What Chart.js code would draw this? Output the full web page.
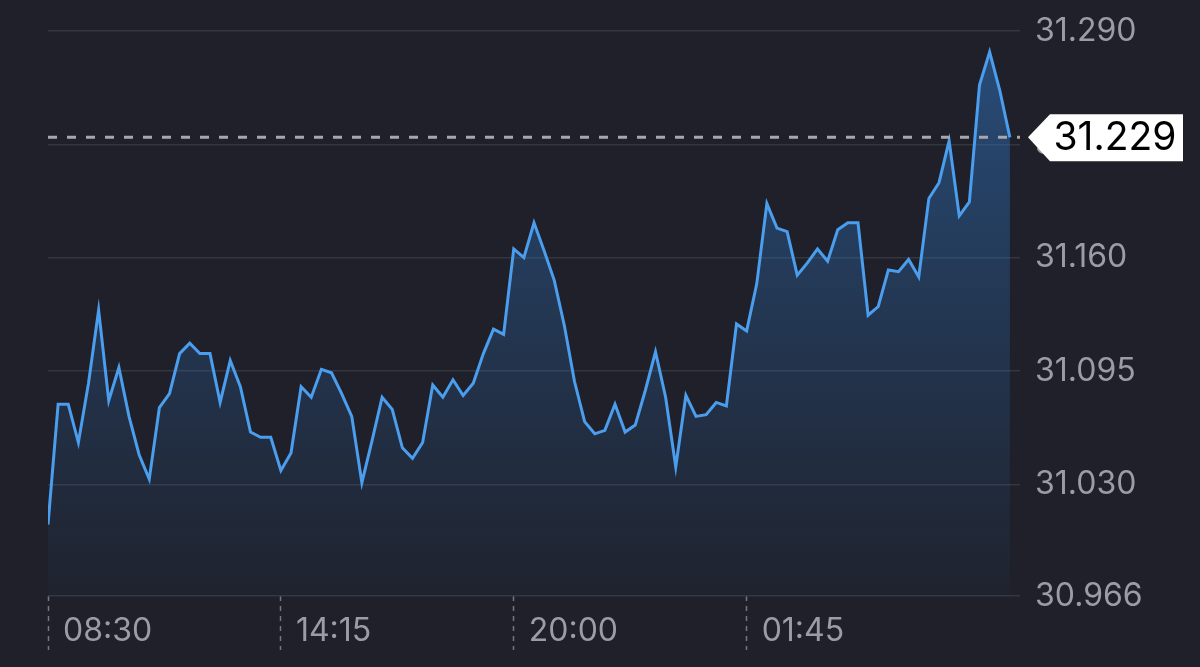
<!DOCTYPE html>
<html>
<head>
<meta charset="utf-8">
<script src="https://cdn.jsdelivr.net/npm/chart.js@4"></script>
<style>
  html, body { margin: 0; padding: 0; background: #1f2029; }
  canvas { display: block; }
</style>
</head>
<body>
<canvas id="priceChart" width="1200" height="667"></canvas>
<script>
// price every 15 minutes, 08:30 -> 08:15 next day
const prices = [
    31.007, 31.076, 31.076, 31.054, 31.088, 31.130, 31.078, 31.097, 31.069, 31.047,
    31.033, 31.074, 31.082, 31.105, 31.111, 31.105, 31.105, 31.077, 31.101, 31.086,
    31.060, 31.057, 31.057, 31.038, 31.048, 31.086, 31.080, 31.096, 31.094, 31.082,
    31.069, 31.031, 31.055, 31.080, 31.073, 31.051, 31.045, 31.054, 31.087, 31.080,
    31.090, 31.081, 31.088, 31.105, 31.119, 31.116, 31.165, 31.160, 31.180, 31.164,
    31.147, 31.121, 31.089, 31.066, 31.059, 31.061, 31.076, 31.060, 31.064, 31.084,
    31.106, 31.080, 31.040, 31.081, 31.069, 31.070, 31.077, 31.075, 31.122, 31.118,
    31.145, 31.191, 31.177, 31.175, 31.150, 31.157, 31.165, 31.158, 31.176, 31.180,
    31.180, 31.127, 31.132, 31.153, 31.152, 31.159, 31.149, 31.194, 31.203, 31.227,
    31.184, 31.192, 31.259, 31.278, 31.256, 31.229
];

const xTickLabels = ['08:30', '14:15', '20:00', '01:45'];
const xTickSteps = [0, 23, 46, 69];
const yTicks = [30.966, 31.030, 31.095, 31.160, 31.225, 31.290];
const lastPrice = 31.229;

const axisFont = { family: 'Inter', size: 32 };
const textGrey = '#9c9da3';

// dashed last-price line + white price tag
const lastPriceTag = {
    id: 'lastPriceTag',
    afterDraw(chart) {
        const { ctx, chartArea, scales } = chart;
        const y = scales.y.getPixelForValue(lastPrice);
        const r = chartArea.right;

        ctx.save();
        ctx.strokeStyle = '#a7a8ac';
        ctx.lineWidth = 3;
        ctx.setLineDash([9, 10]);
        ctx.beginPath();
        ctx.moveTo(chartArea.left, y);
        ctx.lineTo(r, y);
        ctx.stroke();

        ctx.setLineDash([]);
        ctx.fillStyle = '#ffffff';
        ctx.beginPath();
        ctx.moveTo(r + 8, y);
        ctx.lineTo(r + 30, y - 23);
        ctx.lineTo(r + 163, y - 23);
        ctx.lineTo(r + 163, y + 24);
        ctx.lineTo(r + 30, y + 24);
        ctx.closePath();
        ctx.fill();

        ctx.fillStyle = '#000000';
        ctx.font = '39px Inter';
        ctx.textAlign = 'center';
        ctx.textBaseline = 'middle';
        ctx.fillText(lastPrice.toFixed(3), r + 95, y + 1);
        ctx.restore();
    }
};

const ctx = document.getElementById('priceChart').getContext('2d');

const myChart = new Chart(ctx, {
    type: 'line',
    data: {
        datasets: [{
            data: prices.map((p, i) => ({ x: i, y: p })),
            borderColor: '#4b9ded',
            borderWidth: 3,
            borderJoinStyle: 'miter',
            pointRadius: 0,
            tension: 0,
            fill: 'start',
            backgroundColor: (c) => {
                const area = c.chart.chartArea;
                if (!area) return 'rgba(60,130,210,0.3)';
                const g = c.chart.ctx.createLinearGradient(0, area.top, 0, area.bottom);
                g.addColorStop(0, 'rgba(48,115,190,0.55)');
                g.addColorStop(0.5, 'rgba(48,115,190,0.28)');
                g.addColorStop(1, 'rgba(48,115,190,0.04)');
                return g;
            }
        }]
    },
    options: {
        responsive: false,
        animation: false,
        devicePixelRatio: 1,
        layout: { padding: { left: 48, top: 31, right: 0, bottom: 0 } },
        plugins: {
            legend: { display: false },
            tooltip: { enabled: false }
        },
        scales: {
            x: {
                type: 'linear',
                min: 0,
                max: 96,
                afterBuildTicks: (scale) => {
                    scale.ticks = xTickSteps.map(v => ({ value: v }));
                },
                afterFit: (scale) => {
                    scale.height = 71;
                    scale.paddingLeft = 0;
                    scale.paddingRight = 0;
                },
                border: { display: false },
                grid: {
                    drawOnChartArea: false,
                    drawTicks: true,
                    tickLength: 54,
                    tickColor: '#75777e',
                    tickWidth: 1.5,
                    tickBorderDash: [5, 5]
                },
                ticks: {
                    autoSkip: false,
                    maxRotation: 0,
                    align: 'start',
                    labelOffset: 15,
                    padding: -38,
                    color: textGrey,
                    font: axisFont,
                    callback: (v) => xTickLabels[xTickSteps.indexOf(v)]
                }
            },
            y: {
                position: 'right',
                min: 30.966,
                max: 31.290,
                afterBuildTicks: (scale) => {
                    scale.ticks = yTicks.map(v => ({ value: v }));
                },
                afterFit: (scale) => {
                    scale.width = 180;
                    scale.paddingTop = 0;
                    scale.paddingBottom = 0;
                },
                border: { display: false },
                grid: {
                    color: '#34363e',
                    lineWidth: 1.5,
                    drawTicks: false
                },
                ticks: {
                    padding: 15,
                    color: textGrey,
                    font: axisFont,
                    callback: (v) => v.toFixed(3)
                }
            }
        }
    },
    plugins: [lastPriceTag]
});
myChart.update();
</script>
</body>
</html>
